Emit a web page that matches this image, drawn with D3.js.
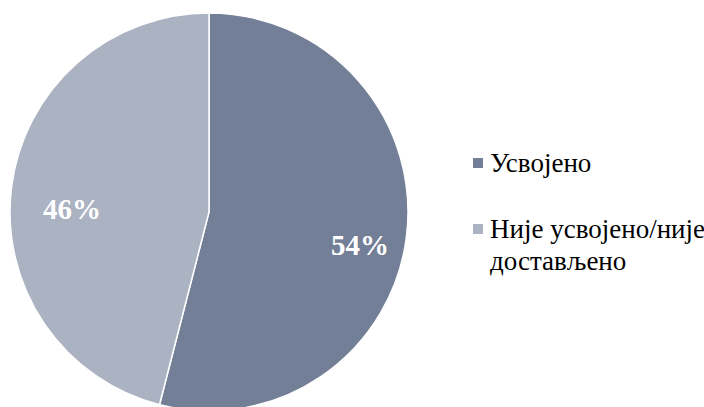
<!DOCTYPE html>
<html><head><meta charset="utf-8">
<script src="https://cdn.jsdelivr.net/npm/d3@7"></script>
<style>
html,body{margin:0;padding:0;background:#fff;}
text{font-family:"Liberation Serif","Times New Roman",serif;}
</style>
</head><body>
<svg id="chart" width="704" height="407"></svg>
<script>
const categories = ["Усвојено", "Није усвојено/није достављено"];
const legendLines = [["Усвојено"], ["Није усвојено/није", "достављено"]];
const values = [54, 46];
const colors = ["#737f96", "#abb2c2"];

const svg = d3.select("#chart");
const cx = 209, cy = 212, R = 199;
const g = svg.append("g").attr("transform", `translate(${cx},${cy})`);

const pie = d3.pie().sort(null).value(d => d)(values);
const arc = d3.arc().innerRadius(0).outerRadius(R);
const labelArc = d3.arc().innerRadius(R * 0.73).outerRadius(R * 0.73);

g.selectAll("path").data(pie).join("path")
  .attr("d", arc)
  .attr("fill", (d, i) => colors[i])
  .attr("stroke", "#fff").attr("stroke-width", 1.5);

g.selectAll("text.lbl").data(pie).join("text")
  .attr("class", "lbl")
  .attr("x", d => labelArc.centroid(d)[0] + 7)
  .attr("y", d => labelArc.centroid(d)[1] + 25)
  .attr("text-anchor", "middle")
  .attr("font-weight", "bold")
  .attr("font-size", 29)
  .attr("fill", "#fff")
  .text(d => d.data + "%");

const legend = svg.append("g").attr("transform", "translate(473,0)");
const rowY = [172, 238];
legendLines.forEach((lines, i) => {
  legend.append("rect").attr("x", 0).attr("y", rowY[i] - 14).attr("width", 10).attr("height", 10)
    .attr("fill", colors[i]);
  const t = legend.append("text").attr("x", 17).attr("y", rowY[i])
    .attr("font-size", 27).attr("fill", "#000");
  lines.forEach((ln, j) => {
    t.append("tspan").attr("x", 17).attr("dy", j === 0 ? 0 : 32).text(ln);
  });
});
</script>
</body></html>
